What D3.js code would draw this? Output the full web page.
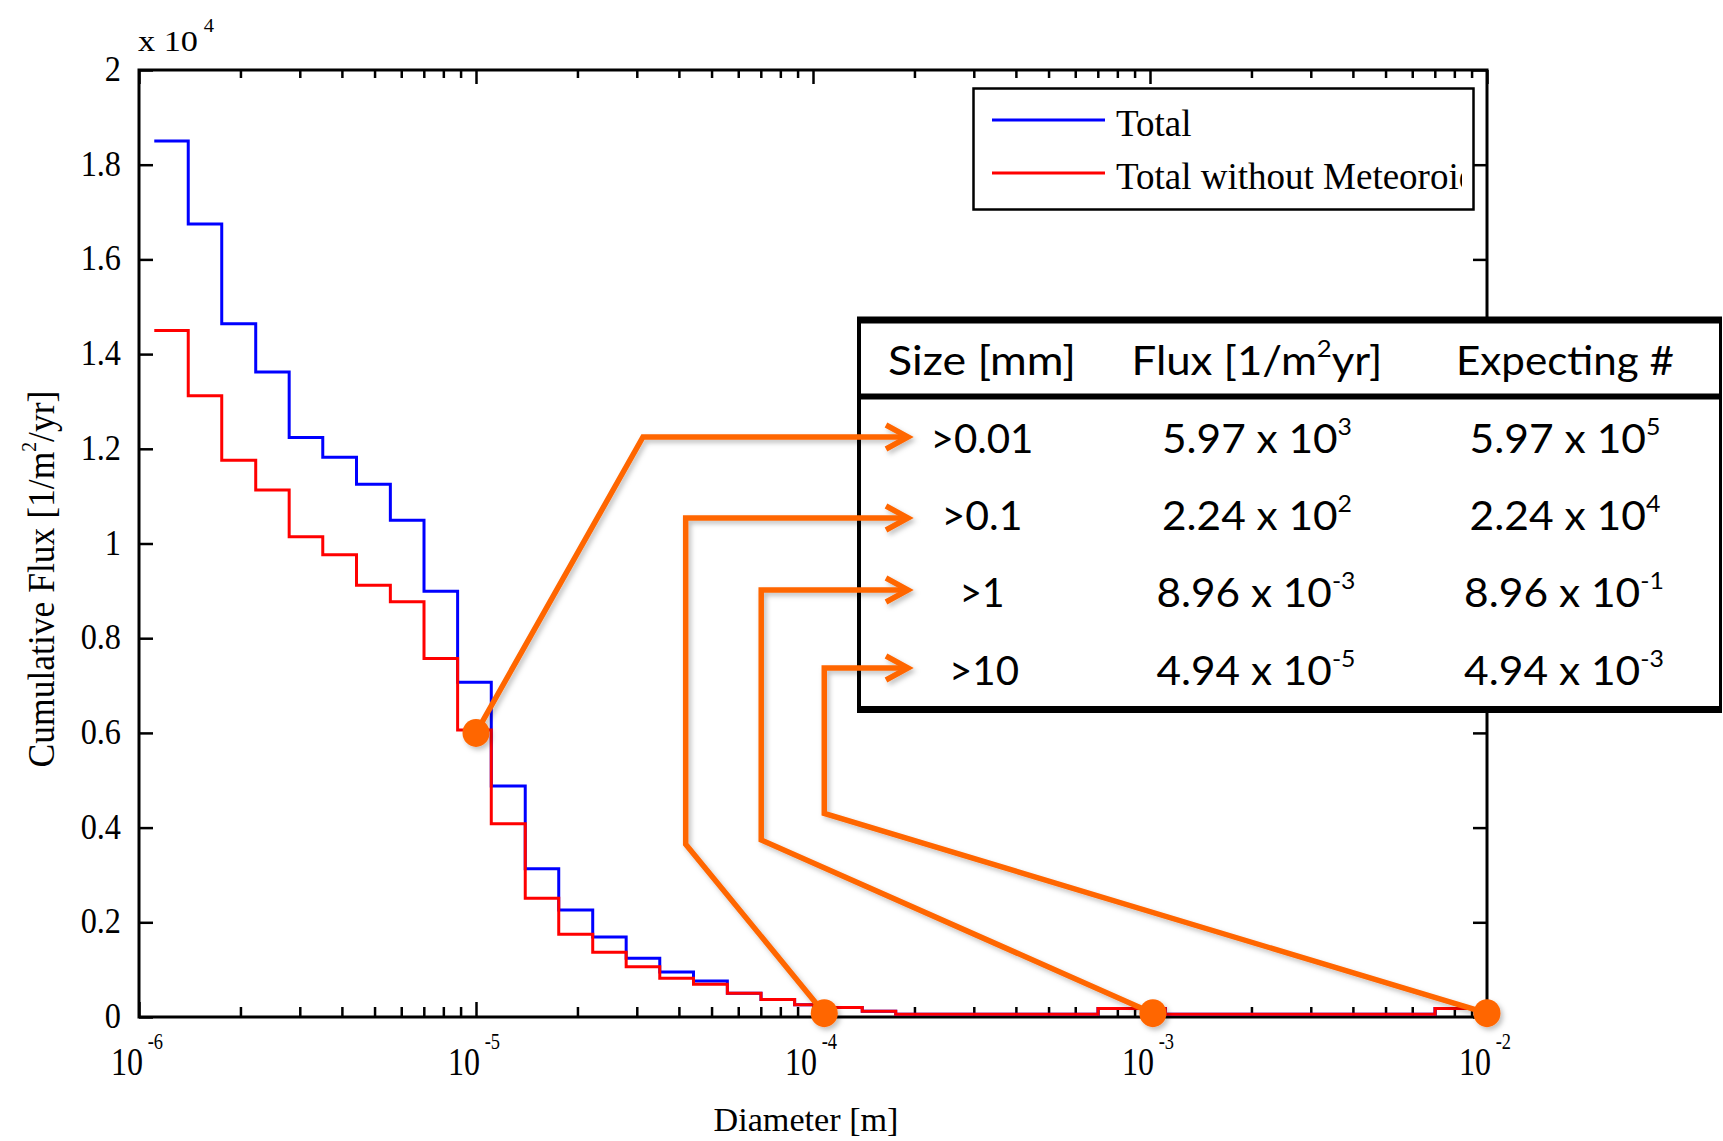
<!DOCTYPE html>
<html><head><meta charset="utf-8">
<script src="https://cdn.jsdelivr.net/npm/d3@7"></script>
<style>body{margin:0;background:#fff;} svg{display:block}</style>
</head><body>
<svg id="c" width="1723" height="1141"></svg>
<script>
// ---------------- DATA ----------------
const binEdges = [
  1.11e-6, 1.40e-6, 1.76e-6, 2.22e-6, 2.79e-6, 3.51e-6, 4.42e-6, 5.57e-6, 7.01e-6, 8.82e-6,
  1.11e-5, 1.40e-5, 1.76e-5, 2.22e-5, 2.79e-5, 3.51e-5, 4.42e-5, 5.57e-5, 7.01e-5, 8.82e-5,
  1.11e-4, 1.40e-4, 1.76e-4, 2.22e-4, 2.79e-4, 3.51e-4, 4.42e-4, 5.57e-4, 7.01e-4, 8.82e-4,
  1.11e-3, 1.40e-3, 1.76e-3, 2.22e-3, 2.79e-3, 3.51e-3, 4.42e-3, 5.57e-3, 7.01e-3, 8.82e-3,
  1.00e-2
];
const totalFlux = [
  18500, 16750, 14640, 13620, 12240, 11820, 11250, 10490, 8990, 7070,
  4880, 3130, 2260, 1690, 1240, 950, 760, 500, 370, 260,
  200, 120, 60, 60, 60, 60, 60, 60, 180, 180,
  60, 60, 60, 60, 60, 60, 60, 60, 180, 180
];
const noMeteoroidFlux = [
  14500, 13120, 11760, 11130, 10140, 9760, 9120, 8770, 7570, 6060,
  4080, 2510, 1750, 1370, 1060, 820, 690, 500, 370, 260,
  200, 120, 60, 60, 60, 60, 60, 60, 180, 180,
  60, 60, 60, 60, 60, 60, 60, 60, 180, 180
];
const seriesNames = ["Total", "Total without Meteoroids"];
const seriesColors = ["#0000ff", "#ff0000"];
const xMajorTicks = [1e-6, 1e-5, 1e-4, 1e-3, 1e-2];
const xTickExponents = ["-6", "-5", "-4", "-3", "-2"];
const yTicks = [0, 2000, 4000, 6000, 8000, 10000, 12000, 14000, 16000, 18000, 20000];
const yTickLabels = ["0", "0.2", "0.4", "0.6", "0.8", "1", "1.2", "1.4", "1.6", "1.8", "2"];

const tableHeaders = ["Size [mm]", "Flux [1/m", "Expecting #"];
const tableSize = [">0.01", ">0.1", ">1", ">10"];
const tableFluxMant = ["5.97", "2.24", "8.96", "4.94"];
const tableFluxExp = ["3", "2", "-3", "-5"];
const tableExpMant = ["5.97", "2.24", "8.96", "4.94"];
const tableExpExp = ["5", "4", "-1", "-3"];

const markerDiameter = [1e-5, 1.08e-4, 1.02e-3, 1e-2];
const markerFlux = [6000, 80, 80, 80];
const connBendDiameter = [3.13e-5, 4.19e-5, 7.02e-5, 1.08e-4];
const connBendFlux = [null, 3650, 3740, 4300];

// ---------------- LAYOUT ----------------
const W = 1723, H = 1141;
const M = {l: 139, r: 1487, t: 70, b: 1017};
const x = d3.scaleLog().domain([1e-6, 1e-2]).range([M.l, M.r]);
const y = d3.scaleLinear().domain([0, 20000]).range([M.b, M.t]);
const svg = d3.select("#c");
const serif = "'Liberation Serif','Times New Roman',serif";
const sans = "Lato,'Open Sans',sans-serif";

function fitText(parent, px, py, anchor, width, build, extra) {
  const g = parent.append("g").attr("transform", `translate(${px},${py})`);
  const t = g.append("text").attr("text-anchor", anchor);
  build(t);
  const w = t.node().getBBox().width;
  g.attr("transform", `translate(${px},${py}) ${extra || ""} scale(${width / w},1)`);
  return g;
}

const defs = svg.append("defs");
const filt = defs.append("filter").attr("id", "sh").attr("filterUnits", "userSpaceOnUse")
  .attr("x", 0).attr("y", 0).attr("width", W).attr("height", H);
filt.append("feDropShadow").attr("dx", 2.5).attr("dy", 3).attr("stdDeviation", 2.4)
  .attr("flood-color", "#000").attr("flood-opacity", 0.25);
defs.append("clipPath").attr("id", "legclip").append("rect")
  .attr("x", 975).attr("y", 90).attr("width", 487).attr("height", 118);

// ---------------- AXES ----------------
const minorTicks = x.ticks().filter(v => !xMajorTicks.some(t => Math.abs(t - v) / t < 1e-9));
function styleAxis(g) {
  g.select(".domain").remove();
  g.selectAll(".tick line").attr("stroke", "#000").attr("stroke-width", 2.5);
}
svg.append("g").attr("transform", `translate(0,${M.b})`)
  .call(d3.axisBottom(x).tickValues(xMajorTicks).tickSize(-15).tickFormat("")).call(styleAxis);
svg.append("g").attr("transform", `translate(0,${M.b})`)
  .call(d3.axisBottom(x).tickValues(minorTicks).tickSize(-10).tickFormat("")).call(styleAxis);
svg.append("g").attr("transform", `translate(0,${M.t})`)
  .call(d3.axisTop(x).tickValues(xMajorTicks).tickSize(-14).tickFormat("")).call(styleAxis);
svg.append("g").attr("transform", `translate(0,${M.t})`)
  .call(d3.axisTop(x).tickValues(minorTicks).tickSize(-8).tickFormat("")).call(styleAxis);
svg.append("g").attr("transform", `translate(${M.l},0)`)
  .call(d3.axisLeft(y).tickValues(yTicks).tickSize(-14).tickFormat("")).call(styleAxis);
svg.append("g").attr("transform", `translate(${M.r},0)`)
  .call(d3.axisRight(y).tickValues(yTicks).tickSize(-14).tickFormat("")).call(styleAxis);

svg.append("rect").attr("x", M.l).attr("y", M.t).attr("width", M.r - M.l).attr("height", M.b - M.t)
  .attr("fill", "none").attr("stroke", "#000").attr("stroke-width", 3);

// y tick labels
yTicks.forEach((v, i) => {
  const g = svg.append("g").attr("transform", `translate(121,${y(v) + 11}) scale(0.95,1.05)`);
  g.append("text").attr("text-anchor", "end")
    .attr("font-family", serif).attr("font-size", 34).text(yTickLabels[i]);
});
// x tick labels
xMajorTicks.forEach((v, i) => {
  const g = svg.append("g").attr("transform", `translate(${x(v) - 2},1075) scale(0.8,1)`);
  const t = g.append("text").attr("text-anchor", "middle").attr("font-family", serif);
  t.append("tspan").attr("font-size", 40).text("10");
  t.append("tspan").attr("font-size", 23).attr("dx", 6).attr("dy", -26).text(xTickExponents[i]);
});
// exponent label
fitText(svg, 138, 51, "start", 76, t => {
  t.attr("font-family", serif);
  t.append("tspan").attr("font-size", 30).text("x 10");
  t.append("tspan").attr("font-size", 18).attr("dx", 5).attr("dy", -19).text("4");
});
// axis labels
fitText(svg, 806, 1131, "middle", 185, t => {
  t.attr("font-family", serif).attr("font-size", 34).text("Diameter [m]");
});
fitText(svg, 54, 579, "middle", 377, t => {
  t.attr("font-family", serif).attr("font-size", 38);
  t.append("tspan").text("Cumulative Flux [1/m");
  t.append("tspan").attr("font-size", 21).attr("dy", -18).text("2");
  t.append("tspan").attr("dy", 18).text("/yr]");
}, "rotate(-90)");

// ---------------- STAIRS ----------------
const stairs = d3.line().x(d => x(d.d)).y(d => y(d.v)).curve(d3.curveStepAfter);
[totalFlux, noMeteoroidFlux].forEach((vals, si) => {
  const pts = binEdges.map((e, i) => ({d: e, v: vals[Math.min(i, vals.length - 1)]}));
  svg.append("path").attr("d", stairs(pts)).attr("fill", "none")
    .attr("stroke", seriesColors[si]).attr("stroke-width", 3);
});

// ---------------- LEGEND ----------------
svg.append("rect").attr("x", 973.5).attr("y", 88.5).attr("width", 500).attr("height", 121)
  .attr("fill", "#fff").attr("stroke", "#000").attr("stroke-width", 2.5);
const legY = [120, 173], legTextY = [136, 188.5];
seriesNames.forEach((n, i) => {
  svg.append("line").attr("x1", 992).attr("x2", 1105).attr("y1", legY[i]).attr("y2", legY[i])
    .attr("stroke", seriesColors[i]).attr("stroke-width", 3);
  svg.append("text").attr("x", 1116).attr("y", legTextY[i]).attr("clip-path", "url(#legclip)")
    .attr("font-family", serif).attr("font-size", 37).text(n);
});

// ---------------- TABLE ----------------
const T = {l: 859, r: 1720.5, t: 320, b: 709.5, sep: 396.5};
svg.append("rect").attr("x", T.l).attr("y", T.t).attr("width", T.r - T.l).attr("height", T.b - T.t).attr("fill", "#fff");
const tl = (x1, y1, x2, y2, w) => svg.append("line").attr("x1", x1).attr("y1", y1).attr("x2", x2).attr("y2", y2)
  .attr("stroke", "#000").attr("stroke-width", w);
tl(T.l - 2, T.t, T.r + 1.5, T.t, 7);
tl(T.l - 2, T.b, T.r + 1.5, T.b, 7);
tl(T.l, T.t, T.l, T.b, 4);
tl(T.r, T.t, T.r, T.b, 3);
tl(T.l, T.sep, T.r, T.sep, 6);

const colX = [982, 1257, 1565];
fitText(svg, colX[0], 375, "middle", 188, t => t.attr("font-family", sans).attr("font-size", 41).text(tableHeaders[0]));
fitText(svg, colX[1], 375, "middle", 251, t => {
  t.attr("font-family", sans).attr("font-size", 41);
  t.append("tspan").text(tableHeaders[1]);
  t.append("tspan").attr("font-size", 24).attr("dy", -18).text("2");
  t.append("tspan").attr("dy", 18).text("yr]");
});
fitText(svg, colX[2], 375, "middle", 218, t => t.attr("font-family", sans).attr("font-size", 41).text(tableHeaders[2]));

const rowBase = [453, 530, 607, 685];
const sizeW = [103, 81, 45, 70];
tableSize.forEach((s, i) => {
  fitText(svg, colX[0] + (i === 3 ? 2 : 0), rowBase[i], "middle", sizeW[i], t =>
    t.attr("font-family", sans).attr("font-size", 41).text(s));
  const neg = tableFluxExp[i].startsWith("-");
  fitText(svg, colX[1] + (neg ? -1 : 0), rowBase[i], "middle", neg ? 199 : 190, t => {
    t.attr("font-family", sans).attr("font-size", 41);
    t.append("tspan").text(tableFluxMant[i] + " x 10");
    t.append("tspan").attr("font-size", 24).attr("dy", -18).text(tableFluxExp[i]);
  });
  const neg2 = tableExpExp[i].startsWith("-");
  fitText(svg, colX[2] - (neg2 ? 1 : 0), rowBase[i], "middle", neg2 ? 200 : 191, t => {
    t.attr("font-family", sans).attr("font-size", 41);
    t.append("tspan").text(tableExpMant[i] + " x 10");
    t.append("tspan").attr("font-size", 24).attr("dy", -18).text(tableExpExp[i]);
  });
});

// ---------------- ANNOTATIONS ----------------
const arrowY = [437, 518, 590, 668];
const tipX = 908;
const orange = "#ff6600";
const ann = svg.append("g").attr("filter", "url(#sh)");
markerDiameter.forEach((d, i) => {
  const mx = x(d), my = y(markerFlux[i]);
  const bx = x(connBendDiameter[i]);
  let pts;
  if (connBendFlux[i] === null) pts = [[mx, my], [bx, arrowY[i]], [tipX - 3, arrowY[i]]];
  else pts = [[mx, my], [bx, y(connBendFlux[i])], [bx, arrowY[i]], [tipX - 3, arrowY[i]]];
  ann.append("path").attr("d", d3.line()(pts)).attr("fill", "none").attr("stroke", orange)
    .attr("stroke-width", 5.5).attr("stroke-linejoin", "miter");
  ann.append("path").attr("d", d3.line()([[tipX - 22, arrowY[i] - 12], [tipX, arrowY[i]], [tipX - 22, arrowY[i] + 12]]))
    .attr("fill", "none").attr("stroke", orange).attr("stroke-width", 5.5).attr("stroke-linejoin", "miter");
  ann.append("ellipse").attr("cx", mx).attr("cy", my).attr("rx", 13.5).attr("ry", 14).attr("fill", orange);
});
</script>
</body></html>
